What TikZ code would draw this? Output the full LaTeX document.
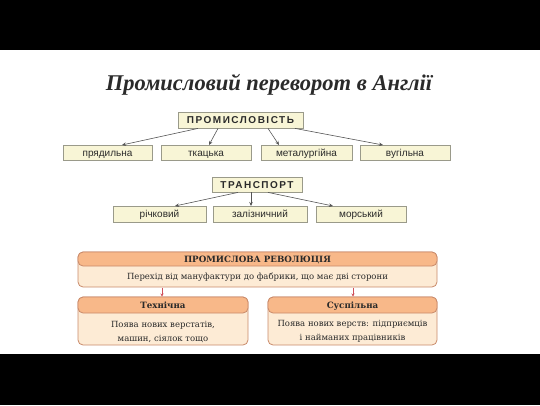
\documentclass[tikz,border=0pt]{standalone}
\usepackage{fontspec}
\setmainfont{Liberation Serif}
\setsansfont{Liberation Sans}
\newfontfamily\bookfont{DejaVu Serif}
\usetikzlibrary{arrows.meta}
\definecolor{boxfill}{HTML}{F8F5D6}
\definecolor{boxline}{HTML}{9A9A8A}
\definecolor{arrowc}{HTML}{555555}
\definecolor{headfill}{HTML}{F8B889}
\definecolor{bodyfill}{HTML}{FDEBD5}
\definecolor{orline}{HTML}{C98A6A}
\definecolor{redarr}{HTML}{D0505A}
\definecolor{txt}{HTML}{2A2A2A}
\tikzset{
  ybox/.style={draw=boxline, fill=boxfill, line width=0.8pt, inner sep=0pt, text height=1.75ex, text depth=0.25ex, text=txt, font=\sffamily\fontsize{10}{12}\selectfont},
  ytitle/.style={ybox, text height=1.6ex, text depth=0pt, font=\sffamily\bfseries\fontsize{10}{12}\selectfont\addfontfeatures{LetterSpace=15}},
  conn/.style={draw=arrowc, line width=0.6pt, -{Stealth[length=4pt,width=3.5pt]}},
  obody/.style={draw=orline, fill=bodyfill, rounded corners=5pt, line width=0.8pt},
  ohead/.style={draw=orline, fill=headfill, rounded corners=5pt, line width=0.8pt},
  otext/.style={font=\bookfont\fontsize{8.5}{14}\selectfont, align=center, text=txt, anchor=base},
  ohtext/.style={font=\bookfont\bfseries\fontsize{8.7}{10}\selectfont, text=txt, anchor=base},
  rarr/.style={draw=redarr, line width=0.6pt, -{Stealth[length=3pt,width=3pt]}}
}
\begin{document}
\begin{tikzpicture}[x=1pt,y=-1pt]
\useasboundingbox (0,0) rectangle (540,405);
\fill[black] (0,0) rectangle (540,50);
\fill[black] (0,354) rectangle (540,405);

\node[font=\bfseries\itshape\fontsize{22.5}{26}\selectfont, text=txt, anchor=base] (title) at (269,90) {Промисловий переворот в Англії};

% industry
\node[ytitle, minimum width=125pt, minimum height=16pt] (ind) at (240.5,120) {ПРОМИСЛОВІСТЬ};
\node[ybox, minimum width=89pt, minimum height=15pt] (i1) at (107.5,153) {прядильна};
\node[ybox, minimum width=90pt, minimum height=15pt] (i2) at (206,153) {ткацька};
\node[ybox, minimum width=91pt, minimum height=15pt] (i3) at (306.5,153) {металургійна};
\node[ybox, minimum width=90pt, minimum height=15pt] (i4) at (405,153) {вугільна};
\draw[conn] (ind.south -| 198,0) -- (122,145);
\draw[conn] (ind.south -| 218,0) -- (209,145);
\draw[conn] (ind.south -| 268,0) -- (279,145);
\draw[conn] (ind.south -| 295,0) -- (383,145);

% transport
\node[ytitle, minimum width=90pt, minimum height=15pt] (tr) at (257,184.5) {ТРАНСПОРТ};
\node[ybox, minimum width=93pt, minimum height=16pt] (t1) at (159.5,214) {річковий};
\node[ybox, minimum width=94pt, minimum height=16pt] (t2) at (260,214) {залізничний};
\node[ybox, minimum width=90pt, minimum height=16pt] (t3) at (361,214) {морський};
\draw[conn] (tr.south -| 238,0) -- (175,206);
\draw[conn] (tr.south -| 251,0) -- (251,206);
\draw[conn] (tr.south -| 268,0) -- (333,206);

% revolution
\draw[obody] (78,252) rectangle (437,287);
\draw[ohead] (78,252) rectangle (437,266);
\node[ohtext] (rh) at (257.5,262.5) {ПРОМИСЛОВА РЕВОЛЮЦІЯ};
\node[otext] (rb) at (257.5,279.5) {Перехід від мануфактури до фабрики, що має дві сторони};

\draw[obody] (78,297) rectangle (248,345);
\draw[ohead] (78,297) rectangle (248,313);
\node[ohtext] (lh) at (163,308) {Технічна};
\node[otext, anchor=center] (lb) at (163,331.5) {Поява нових верстатів,\\машин, сіялок тощо};

\draw[obody] (268,297) rectangle (437,345);
\draw[ohead] (268,297) rectangle (437,313);
\node[ohtext] (sh) at (352.5,308) {Суспільна};
\node[otext, anchor=center] (sb) at (352.5,331.5) {Поява нових верств: підприємців\\і найманих працівників};

\coordinate (a1s) at (162,287.5);
\coordinate (a1e) at (162,296.5);
\coordinate (a2s) at (353,287.5);
\coordinate (a2e) at (353,296.5);
\draw[rarr] (a1s) -- (a1e);
\draw[rarr] (a2s) -- (a2e);
\end{tikzpicture}
\end{document}
